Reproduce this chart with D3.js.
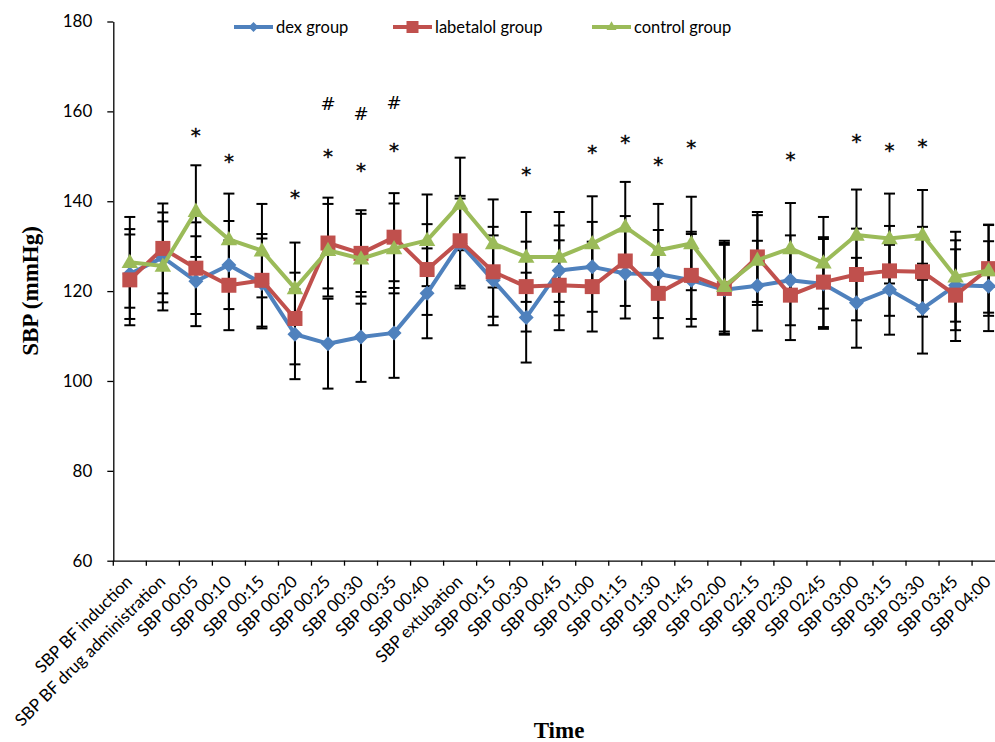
<!DOCTYPE html>
<html>
<head>
<meta charset="utf-8">
<script src="https://cdn.jsdelivr.net/npm/d3@7"></script>
<style>
body { margin: 0; background: #fff; }
svg { display: block; }
.axis path, .axis line { stroke: #000; stroke-width: 1.3; }
.axis text { font-family: Lato, "Open Sans", sans-serif; fill: #000; }
</style>
</head>
<body>
<svg width="995" height="742"></svg>
<script>
// categories on the x axis
var categories = ["SBP BF induction", "SBP BF drug administration", "SBP 00:05", "SBP 00:10", "SBP 00:15",
    "SBP 00:20", "SBP 00:25", "SBP 00:30", "SBP 00:35", "SBP 00:40", "SBP extubation", "SBP 00:15 ",
    "SBP 00:30 ", "SBP 00:45", "SBP 01:00", "SBP 01:15", "SBP 01:30", "SBP 01:45", "SBP 02:00",
    "SBP 02:15", "SBP 02:30", "SBP 02:45", "SBP 03:00", "SBP 03:15", "SBP 03:30", "SBP 03:45", "SBP 04:00"];

// mean values per group
var dexMean = [123.8, 127.5, 122.2, 125.8, 121.7, 110.4, 108.3, 109.8, 110.7, 119.5, 130.6, 122.4, 114.1, 124.6,
    125.4, 123.9, 123.8, 122.4, 120.3, 121.2, 122.4, 121.6, 117.4, 120.3, 116.1, 121.3, 121.1];
var labetalolMean = [122.5, 129.5, 125.1, 121.3, 122.4, 113.9, 130.7, 128.4, 132.0, 124.8, 131.2, 124.3, 121.0, 121.3,
    121.0, 126.7, 119.5, 123.5, 120.6, 127.6, 119.1, 122.0, 123.7, 124.5, 124.3, 119.1, 125.0];
var controlMean = [126.4, 125.6, 137.8, 131.5, 129.0, 120.6, 129.1, 127.2, 129.5, 131.3, 139.4, 130.6, 127.6, 127.6,
    130.6, 134.3, 129.1, 130.6, 121.1, 126.9, 129.5, 126.3, 132.5, 131.7, 132.5, 123.2, 124.6];

// standard deviations (error bars)
var dexSD = [10, 10, 10, 9.8, 10, 10, 10, 10, 10, 10, 10, 10, 10, 10,
    10, 10, 9.8, 10.3, 10, 10, 10, 10, 10, 10, 10, 10, 10];
var labetalolSD = [10.1, 10, 10.2, 10, 10.3, 10.2, 10.1, 9.6, 9.8, 10.1, 10, 10, 10, 10,
    10, 10, 10, 9.7, 10.1, 10, 10, 10, 10.2, 10, 10, 10.2, 9.8];
var controlSD = [10.1, 9.9, 10.2, 10.2, 10.4, 10.2, 10.3, 10, 10, 10.2, 10.3, 9.8, 10, 10,
    10.5, 10, 10.3, 10.4, 10.1, 10, 10.1, 10.2, 10.1, 10, 10, 10, 10.1];

// significance marks: category index + height in mmHg
var starCats = [2, 3, 5, 6, 7, 8, 12, 14, 15, 16, 17, 20, 22, 23, 24];
var starVals = [155.8, 150.0, 142.1, 151.2, 148.0, 152.5, 147.1, 152.1, 154.3, 149.3, 153.1, 150.5, 154.5, 152.5, 153.4];
var hashCats = [6, 7, 8];
var hashVals = [161.9, 159.6, 162.1];

var yTicks = [60, 80, 100, 120, 140, 160, 180];
var groupNames = ["dex group", "labetalol group", "control group"];

var svg = d3.select("svg"),
    margin = {top: 21.5, left: 113.3},
    width = 891.8, // plot runs past the right edge, like the original crop
    height = 539.2;

var x = d3.scaleBand().domain(categories).range([0, width]), // one band per time point
    y = d3.scaleLinear().domain([60, 180]).range([height, 0]);

var g = svg.append("g")
    .attr("transform", "translate(" + margin.left + "," + margin.top + ")");

var series = [
    {name: groupNames[0], mean: dexMean, sd: dexSD, color: "#4F81BD", shape: "diamond"},
    {name: groupNames[1], mean: labetalolMean, sd: labetalolSD, color: "#C0504D", shape: "square"},
    {name: groupNames[2], mean: controlMean, sd: controlSD, color: "#9BBB59", shape: "triangle"}
];

function cx(i) { return x(categories[i]) + x.bandwidth() / 2; }

function symbolPath(shape, s) {
    if (shape == "diamond") return d3.symbol(d3.symbolSquare, s * s / 2)();
    if (shape == "square") return d3.symbol(d3.symbolSquare, s * s)();
    return d3.symbol(d3.symbolTriangle, s * s * Math.sqrt(3) / 4)();
}

// y axis
g.append("g")
    .attr("class", "axis")
    .call(d3.axisLeft(y).tickValues(yTicks).tickSize(6).tickSizeOuter(0).tickPadding(15))
    .selectAll("text").style("font-size", "17px");

// x axis: line, ticks between the bands, rotated labels
var xa = g.append("g").attr("class", "axis").attr("transform", "translate(0," + height + ")");
xa.call(d3.axisBottom(x).tickSize(0).tickFormat(""));
xa.selectAll(".xtick")
    .data(d3.range(categories.length + 1))
    .enter().append("line")
    .attr("x1", function (d) { return d * x.step(); })
    .attr("x2", function (d) { return d * x.step(); })
    .attr("y1", 0).attr("y2", 5);
xa.selectAll(".xlabel")
    .data(categories)
    .enter().append("text")
    .attr("text-anchor", "end")
    .style("font-size", "17px")
    .attr("transform", function (d) {
        return "translate(" + (x(d) + x.bandwidth() / 2 + 3.5) + ",22) rotate(-45)";
    })
    .text(function (d) { return d.trim(); });

// error bars first, lines and markers on top
series.forEach(function (s) {
    var eb = g.append("g").attr("stroke", "#000").attr("stroke-width", 2);
    s.mean.forEach(function (m, i) {
        var top = y(m + s.sd[i]), bot = y(m - s.sd[i]);
        eb.append("line").attr("x1", cx(i)).attr("x2", cx(i)).attr("y1", top).attr("y2", bot);
        eb.append("line").attr("x1", cx(i) - 5.5).attr("x2", cx(i) + 5.5).attr("y1", top).attr("y2", top);
        eb.append("line").attr("x1", cx(i) - 5.5).attr("x2", cx(i) + 5.5).attr("y1", bot).attr("y2", bot);
    });
});

series.forEach(function (s) {
    var line = d3.line()
        .x(function (d, i) { return cx(i); })
        .y(function (d) { return y(d); });
    g.append("path")
        .datum(s.mean)
        .attr("fill", "none")
        .attr("stroke", s.color)
        .attr("stroke-width", 4)
        .attr("stroke-linejoin", "round")
        .attr("d", line);
    g.selectAll(".m-" + s.shape)
        .data(s.mean)
        .enter().append("path")
        .attr("fill", s.color)
        .attr("transform", function (d, i) {
            var r = s.shape == "diamond" ? " rotate(45)" : "";
            var dy = s.shape == "triangle" ? 1 : 0;
            return "translate(" + cx(i) + "," + (y(d) + dy) + ")" + r;
        })
        .attr("d", symbolPath(s.shape, s.shape == "diamond" ? 15 : (s.shape == "square" ? 15 : 16.5)));
});

// * and # marks (thin stroke keeps them plain black)
g.selectAll(".star")
    .data(starCats)
    .enter().append("text")
    .attr("x", function (d) { return cx(d); })
    .attr("y", function (d, i) { return y(starVals[i]) + 12; })
    .attr("text-anchor", "middle")
    .attr("fill", "#000")
    .attr("stroke", "#000")
    .attr("stroke-width", 0.4)
    .style("font-family", "'DejaVu Sans', sans-serif")
    .style("font-size", "20px")
    .text("*");
g.selectAll(".hash")
    .data(hashCats)
    .enter().append("text")
    .attr("x", function (d) { return cx(d); })
    .attr("y", function (d, i) { return y(hashVals[i]) + 7; })
    .attr("text-anchor", "middle")
    .attr("fill", "#000")
    .style("font-family", "'DejaVu Sans', sans-serif")
    .style("font-size", "18px")
    .text("#");

// axis titles
svg.append("text")
    .attr("transform", "translate(38,291) rotate(-90)")
    .attr("text-anchor", "middle")
    .style("font-family", "'Liberation Serif', serif")
    .style("font-weight", "bold")
    .style("font-size", "23px")
    .text("SBP (mmHg)");
svg.append("text")
    .attr("x", 559).attr("y", 738)
    .attr("text-anchor", "middle")
    .style("font-family", "'Liberation Serif', serif")
    .style("font-weight", "bold")
    .style("font-size", "23px")
    .text("Time");

// legend on top
var legendX = [234, 393, 592];
var legend = svg.selectAll(".legend")
    .data(series)
    .enter().append("g")
    .attr("transform", function (d, i) { return "translate(" + legendX[i] + ",27)"; });
legend.append("line")
    .attr("x1", 0).attr("x2", 39)
    .attr("stroke", function (d) { return d.color; })
    .attr("stroke-width", 4);
legend.append("path")
    .attr("fill", function (d) { return d.color; })
    .attr("transform", function (d) { return "translate(19.5,0)" + (d.shape == "diamond" ? " rotate(45)" : ""); })
    .attr("d", function (d) { return symbolPath(d.shape, d.shape == "square" ? 12 : 10); });
legend.append("text")
    .attr("x", 42).attr("y", 6)
    .style("font-family", "Lato, sans-serif")
    .style("font-size", "16.5px")
    .text(function (d) { return d.name; });
</script>
</body>
</html>
